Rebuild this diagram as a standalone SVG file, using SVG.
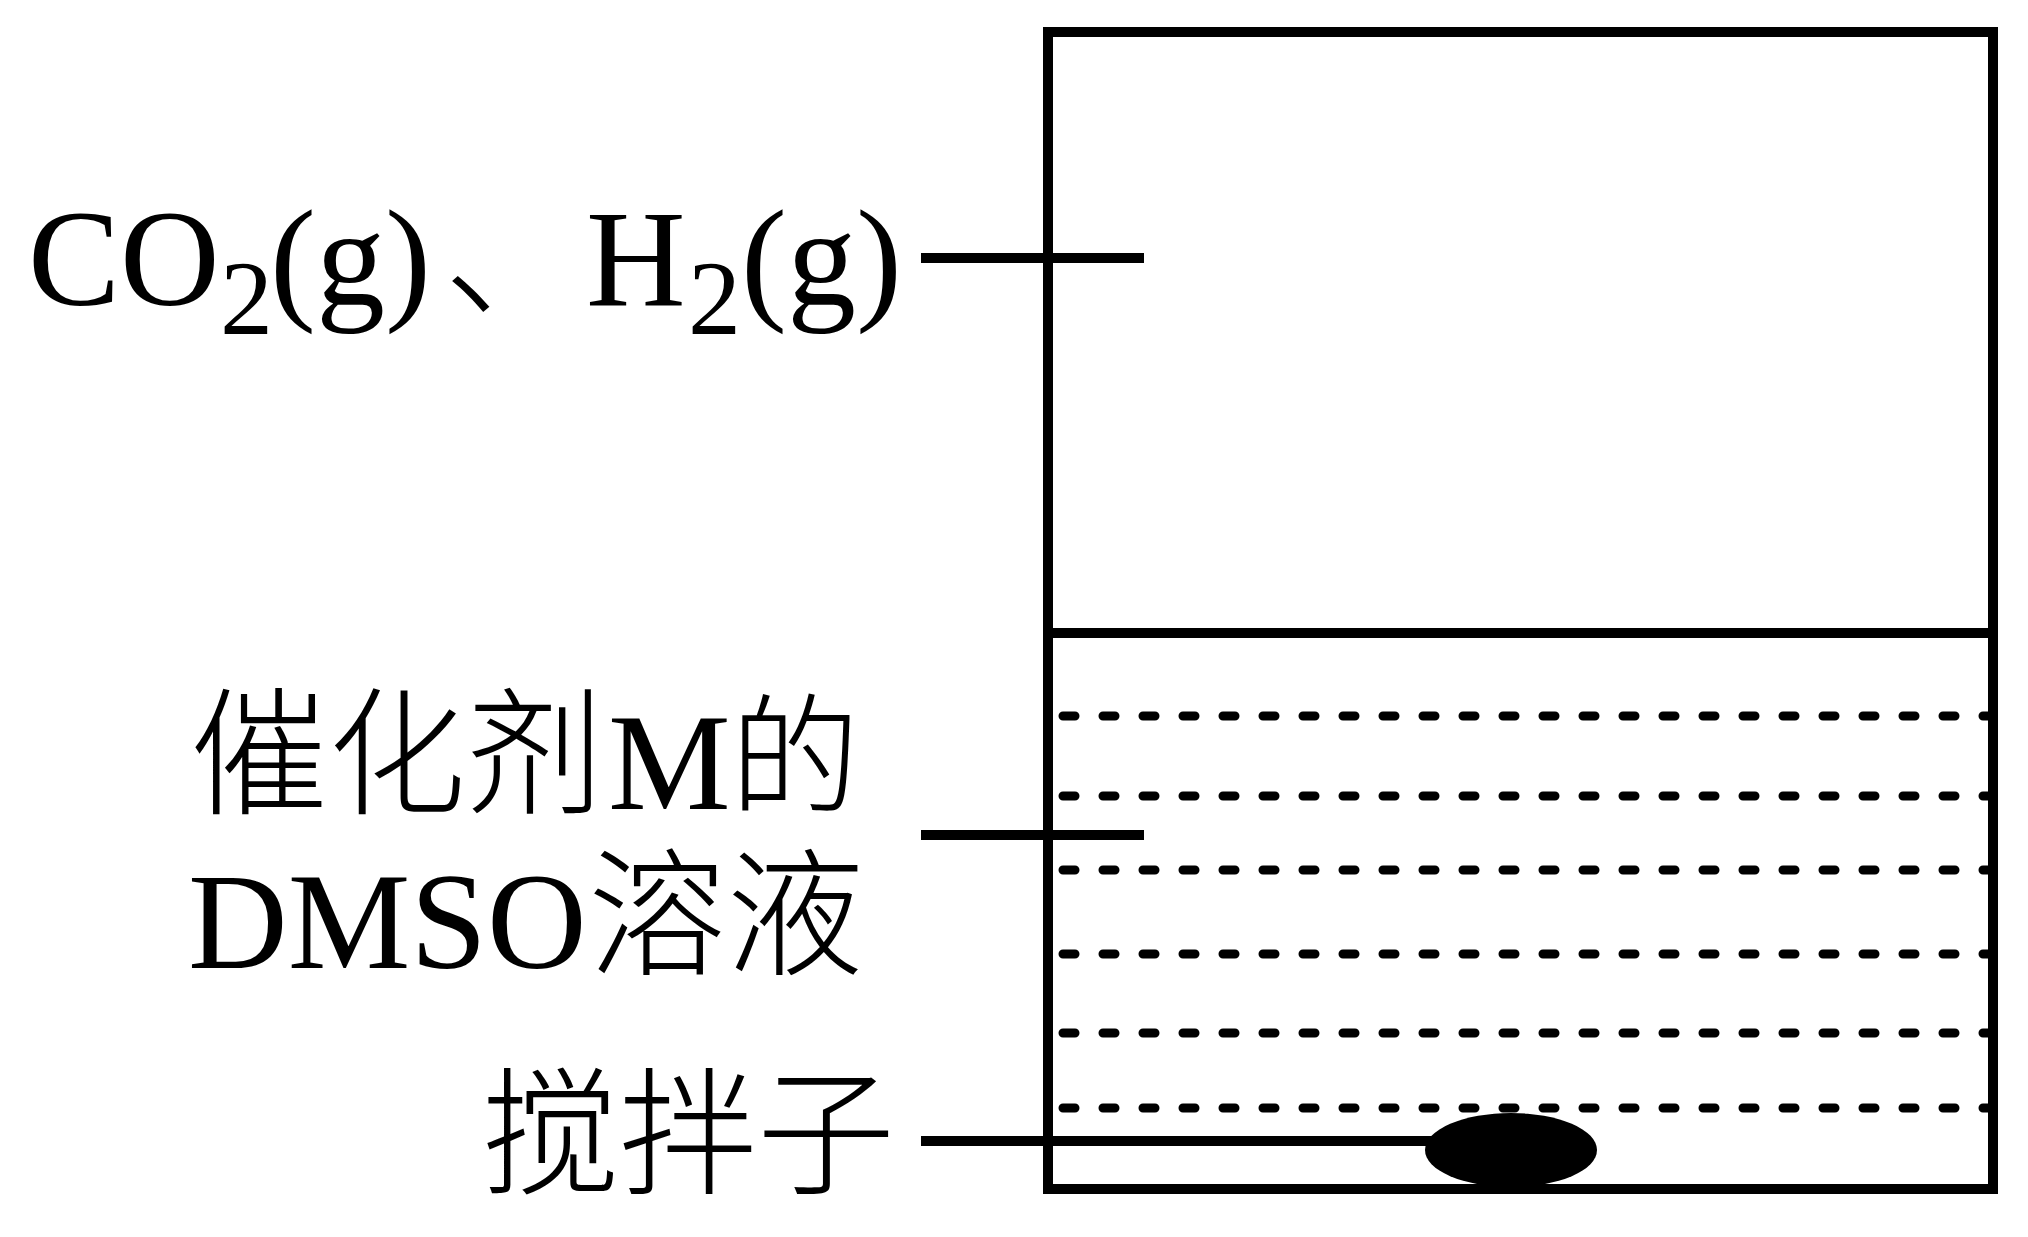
<svg xmlns="http://www.w3.org/2000/svg" width="2028" height="1237" viewBox="0 0 2028 1237">
<style>
.t{font-family:"Liberation Serif","Noto Sans CJK SC",serif;font-size:138px;fill:#000}
.c{font-weight:300}
.s{font-family:"Liberation Serif",serif;font-size:106px;fill:#000}
.l{stroke:#000;stroke-width:10;fill:none}
.d{stroke:#000;stroke-width:9;stroke-linecap:round;stroke-dasharray:12 28;fill:none}
</style>
<rect width="2028" height="1237" fill="#fff"/>
<g id="vessel">
<rect class="l" x="1048" y="32" width="945" height="1157"/>
<line class="l" x1="1048" y1="633" x2="1993" y2="633"/>
</g>
<g id="liquid">
<line class="d" x1="1063" y1="716" x2="1989" y2="716"/>
<line class="d" x1="1063" y1="796" x2="1989" y2="796"/>
<line class="d" x1="1063" y1="870" x2="1989" y2="870"/>
<line class="d" x1="1063" y1="954" x2="1989" y2="954"/>
<line class="d" x1="1063" y1="1033" x2="1989" y2="1033"/>
<line class="d" x1="1063" y1="1108" x2="1989" y2="1108"/>
</g>
<g id="stir-bar"><ellipse cx="1519" cy="1150" rx="86" ry="37" fill="#000" transform="translate(-8 0)"/></g>
<g id="connectors">
<line class="l" x1="921" y1="258" x2="1144" y2="258"/>
<line class="l" x1="921" y1="835" x2="1144" y2="835"/>
<line class="l" x1="921" y1="1141" x2="1445" y2="1141"/>
</g>
<g id="label-gas">
<text class="t" x="28" y="305">CO</text>
<text class="s" x="220" y="334">2</text>
<text class="t" x="270" y="305">(g)</text>
<text class="t c" x="444" y="305">、</text>
<text class="t" x="586" y="305">H</text>
<text class="s" x="688" y="334">2</text>
<text class="t" x="741" y="305">(g)</text>
</g>
<g id="label-solution">
<text class="t c" x="190" y="803">催化剂</text>
<text class="t" x="608" y="809">M</text>
<text class="t c" x="730" y="803" style="font-size:130px">的</text>
<text class="t" x="188" y="968">DMSO</text>
<text class="t c" x="588" y="964">溶液</text>
</g>
<g id="label-stirrer"><text class="t c" x="481" y="1183">搅拌子</text></g>
</svg>
